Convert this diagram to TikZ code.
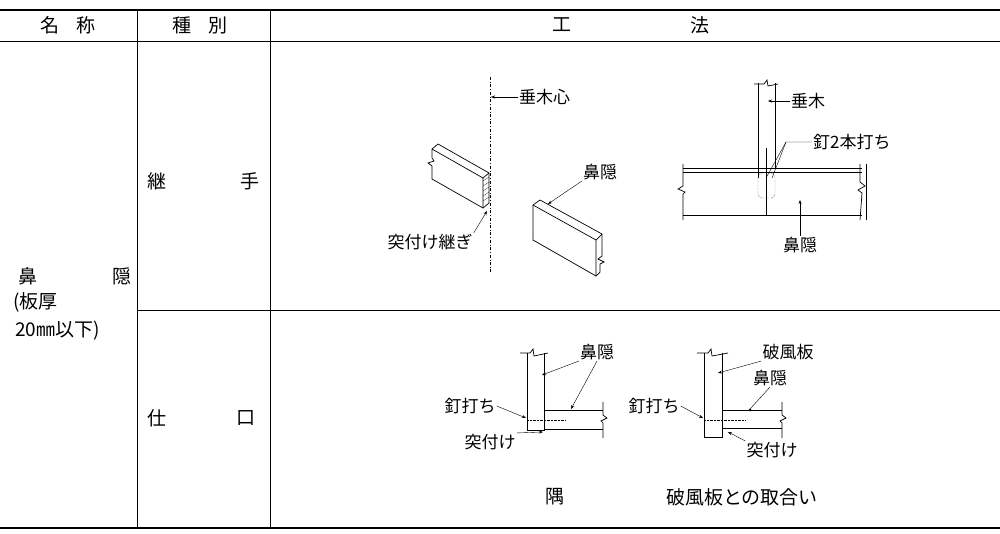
\documentclass[tikz,border=0pt]{standalone}
\usepackage{fontspec}
\setmainfont{Noto Sans CJK JP}
\usetikzlibrary{arrows.meta}

\tikzset{
  lbl/.style={inner sep=1pt, font=\fontsize{17}{19}\selectfont},
  hdr/.style={inner sep=1pt, font=\fontsize{19}{21}\selectfont},
  lead/.style={thin, -{Stealth[length=4pt,width=3pt]}},
  part/.style={line width=0.7pt},
}

\begin{document}
\begin{tikzpicture}[x=1pt, y=-1pt]
  \useasboundingbox (0,0) rectangle (1000,533);

  % table rules
  \draw[line width=1.4pt] (0,10) -- (1000,10);
  \draw[line width=0.6pt] (0,41) -- (1000,41);
  \draw[line width=1.4pt] (0,528) -- (1000,528);
  \draw[line width=0.6pt] (137,10) -- (137,528);
  \draw[line width=0.6pt] (270,10) -- (270,528);
  \draw[line width=0.6pt] (137,310) -- (1000,310);

  % headers
  \node[hdr] (h1a) at (50,25) {名};
  \node[hdr] (h1b) at (86,25) {称};
  \node[hdr] (h2a) at (182,25) {種};
  \node[hdr] (h2b) at (218,25) {別};
  \node[hdr] (h3a) at (562,25) {工};
  \node[hdr] (h3b) at (700,25) {法};

  \node[hdr] (n1) at (28,276) {鼻};
  \node[hdr] (n2) at (122,276) {隠};
  \node[hdr, anchor=west] (n3) at (12,302) {(板厚};
  \node[hdr, anchor=west] (n4) at (14,331) {20㎜以下)};

  \node[hdr] (k1) at (157,181) {継};
  \node[hdr] (k2) at (250,181) {手};
  \node[hdr] (s1) at (157,418) {仕};
  \node[hdr] (s2) at (246,418) {口};

  % --- joint: left sketch
  \draw[thin, dash dot] (490,77) -- (490,272);
  \draw[part] (432,149) -- (438,144) -- (489,173) -- (489,203) -- (483,208) -- (432,179)
    -- (432,166) -- (428,163) -- (434,161) -- (432,158) -- cycle;
  \draw[part] (432,149) -- (483,178) -- (483,208);
  \draw[part] (483,178) -- (489,173);
  \foreach \y in {181,186,...,203} \draw[very thin] (483,\y) -- (489,\y-4);
  \draw[part] (533,205) -- (540,200) -- (602,234) -- (602,256) -- (598,259) -- (604,262)
    -- (600,264) -- (600,272) -- (596,276) -- (533,240) -- cycle;
  \draw[part] (533,205) -- (596,240) -- (596,276);
  \draw[part] (596,240) -- (602,234);
  \node[lbl, anchor=west] (rc) at (518,97) {垂木心};
  \node[lbl] (hk1) at (600,172) {鼻隠};
  \node[lbl] (tt) at (430,242) {突付け継ぎ};
  \draw[lead] (rc.west) -- (491,97);
  \draw[lead] (hk1.south west) -- (548,204);
  \draw[lead] (tt.north east) -- (487,211);

  % --- joint: right sketch
  \draw[part] (758,83) -- (758,178);
  \draw[part] (775,83) -- (775,168);
  \draw[part] (754,84) -- (764,84) -- (767,80) -- (768,86) -- (778,84);
  \draw[part] (683,168) -- (862,168);
  \draw[part] (683,172) -- (862,172);
  \draw[part] (683,215) -- (862,215);
  \draw[part] (683,164) -- (683,186) -- (678,189) -- (685,192) -- (683,194) -- (683,220);
  \draw[part] (860,164) -- (860,182) -- (865,186) -- (858,190) -- (862,193) -- (860,220);
  \draw[part] (866,164) -- (866,220);
  \draw[part] (766,148) -- (766,215);
  \draw[thin, densely dotted, rounded corners=4pt] (758,173) rectangle (775,198);
  \node[lbl, anchor=west] (tk) at (790,101) {垂木};
  \node[lbl, anchor=west] (kg) at (812,142) {釘2本打ち};
  \node[lbl] (hk2) at (800,245) {鼻隠};
  \draw[lead] (tk.west) -- (768,101);
  \draw[thin] (kg.west) -- (786,142) -- (766,178);
  \draw[thin] (786,142) -- (772,178);
  \draw[lead] (hk2.north) -- (800,200);

  % --- corner
  \draw[part] (520,353) -- (530,353) -- (533,349) -- (534,356) -- (548,353);
  \draw[part] (527,353) -- (527,430) -- (544,430) -- (544,353);
  \draw[part] (544,410) -- (603,410);
  \draw[part] (544,429) -- (603,429);
  \draw[part] (603,402) -- (603,415) -- (607,418) -- (601,421) -- (603,423) -- (603,438);
  \draw[thin, densely dotted] (527,420) -- (565,420);
  \node[lbl] (hk3) at (597,352) {鼻隠};
  \node[lbl] (kd1) at (470,406) {釘打ち};
  \node[lbl] (tz1) at (490,442) {突付け};
  \draw[lead] (hk3.south west) -- (542,375);
  \draw[lead] (hk3.south) -- (571,409);
  \draw[lead] (kd1.east) -- (526,418);
  \draw[lead] (tz1.north east) -- (543,432);

  % --- barge board
  \draw[part] (697,353) -- (708,353) -- (711,349) -- (712,356) -- (728,353);
  \draw[part] (704,353) -- (704,437) -- (722,437) -- (722,353);
  \draw[part] (722,410) -- (782,410);
  \draw[part] (722,428) -- (782,428);
  \draw[part] (782,402) -- (782,415) -- (786,418) -- (780,421) -- (782,423) -- (782,438);
  \draw[thin, densely dotted] (704,420) -- (745,420);
  \node[lbl] (hf) at (788,352) {破風板};
  \node[lbl] (hk4) at (770,378) {鼻隠};
  \node[lbl] (kd2) at (654,406) {釘打ち};
  \node[lbl] (tz2) at (772,450) {突付け};
  \draw[lead] (hf.south west) -- (718,373);
  \draw[thin] (hk4.south) -- (750,409);
  \fill (750,410) circle (1.5pt);
  \draw[lead] (kd2.east) -- (703,418);
  \draw[lead] (tz2.north west) -- (728,432);

  % captions
  \node[hdr] (c1) at (555,497) {隅};
  \node[hdr] (c2) at (742,497) {破風板との取合い};
\end{tikzpicture}
\end{document}
